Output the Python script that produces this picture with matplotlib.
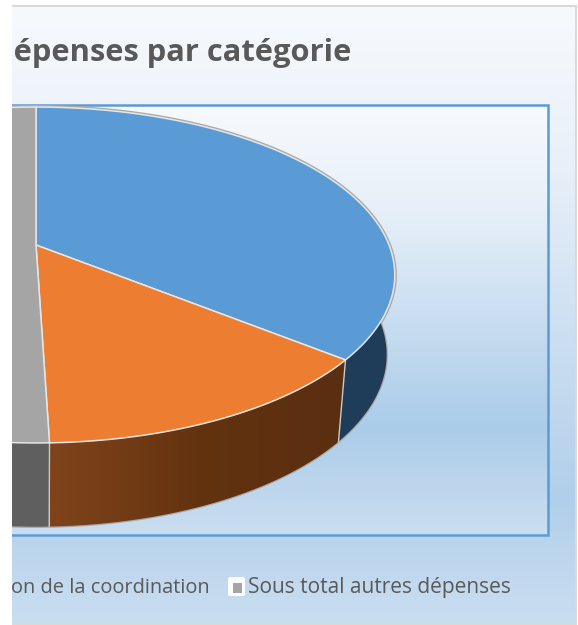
"""
Clipped 3D pie chart of expenses per category
"""

import numpy as np
import matplotlib
matplotlib.use('Agg')
import matplotlib.pyplot as plt
from matplotlib.colors import LinearSegmentedColormap
from matplotlib.patches import FancyBboxPatch, Polygon, Rectangle

# Chart values, clockwise from the top of the pie
categories = ['Blue part', 'Orange part', 'Sous total autres dépenses']
shares = [35.8, 13.7, 50.5]
top_colors = ['#5b9bd5', '#ed7d31', '#a5a5a5']
side_colors = ['#1f3d59', None, '#5f5f5f']

title_text = 'dépenses par catégorie'
legend_left = 'on de la coordination'
legend_right = 'Sous total autres dépenses'

W, H = 578, 625
TILT = 0.1786


def project(theta, cx, cy, a, b):
    """ Projects an angle on the pie circle to the picture, with perspective"""
    x = np.sin(theta)
    y = np.cos(theta)
    scale = 1 + TILT * y
    return cx + a * x / scale, cy - b * y / scale


def top_rim(theta):
    return project(theta, 36, 245, 353, 162.6)


def bottom_rim(theta):
    return project(theta, 36, 324, 345, 166.5)


def gradient(ax, box, stops, clip=None, horizontal=False, zorder=1):
    """ Draws a gradient in a box (left, right, bottom, top)"""
    cmap = LinearSegmentedColormap.from_list('g', stops)
    values = np.linspace(0, 1, 256)
    values = values.reshape(1, -1) if horizontal else values.reshape(-1, 1)
    im = ax.imshow(values, extent=box, cmap=cmap, aspect='auto',
                   origin='upper', zorder=zorder, vmin=0, vmax=1)
    if clip is not None:
        im.set_clip_path(clip)


fig = plt.figure(figsize=(W / 100, H / 100), dpi=100)
ax = fig.add_axes([0, 0, 1, 1])
ax.set_xlim(0, W)
ax.set_ylim(H, 0)
ax.axis('off')

# Chart background
back = [(0, '#f7fafd'), (0.25, '#e9f0f9'), (0.8, '#b1cfea'), (1, '#cadef1')]
gradient(ax, (5, 575, 624, 6), back)
ax.add_patch(Rectangle((5, 5.5), 570.5, 618, fill=False,
                       edgecolor='#d9d9d9', linewidth=1.5, zorder=2))

# Plot area
inner = [(0, '#f7fafd'), (0.25, '#e6eff8'), (0.75, '#abcce9'), (1, '#cbdef1')]
gradient(ax, (5, 548, 535, 105), inner, zorder=3)
ax.add_patch(Rectangle((5, 105), 543, 430, fill=False,
                       edgecolor='#5b9bd5', linewidth=1.8, zorder=4))

# Pie slices
edges = np.cumsum([0] + shares) / np.sum(shares) * 2 * np.pi

# The outline sits behind the slices and shows as a soft grey rim
all_angles = np.linspace(0, 2 * np.pi, 400)
ax.add_patch(Polygon(np.column_stack(top_rim(all_angles)), closed=True,
                     facecolor='none', edgecolor='#a9a9a9', linewidth=3.0,
                     zorder=5))
front_angles = np.linspace(np.radians(75), np.radians(285), 200)
bx, by = bottom_rim(front_angles)
ax.plot(bx, by, color='#a9a9a9', linewidth=1.8, zorder=5)

for i in range(len(shares)):
    # Side wall, the top face hides whatever is turned away from the viewer
    start = max(edges[i], np.radians(75))
    end = min(edges[i + 1], np.radians(285))
    if end > start:
        angles = np.linspace(start, end, 120)
        tx, ty = top_rim(angles)
        bx, by = bottom_rim(angles)
        outline = np.column_stack([np.r_[tx, bx[::-1]], np.r_[ty, by[::-1]]])
        if side_colors[i] is None:
            wall = Polygon(outline, closed=True, facecolor='none',
                           edgecolor='none', zorder=6)
            ax.add_patch(wall)
            gradient(ax, (50, 348, 530, 350), ['#80441b', '#63330f', '#5a2e11'],
                     clip=wall, horizontal=True, zorder=6)
        else:
            ax.add_patch(Polygon(outline, closed=True,
                                 facecolor=side_colors[i], edgecolor='none',
                                 zorder=6))
        # Vertical seam at the slice start
        ax.plot([tx[0], bx[0]], [ty[0], by[0]], color='#c9c9c9',
                linewidth=1.0, zorder=7)

    # Top face
    angles = np.linspace(edges[i], edges[i + 1], 200)
    tx, ty = top_rim(angles)
    face = np.column_stack([np.r_[36, tx], np.r_[245, ty]])
    ax.add_patch(Polygon(face, closed=True, facecolor=top_colors[i],
                         edgecolor='#e6e6e6', linewidth=1.1, zorder=8))

# Title and legend
ax.text(351, 53, title_text, ha='right', va='center', fontsize=22.2,
        fontweight='bold', family='Open Sans', color='#595959', zorder=9)
ax.text(210, 588, legend_left, ha='right', va='center', fontsize=14.4,
        family='Open Sans', color='#595959', zorder=9)
ax.add_patch(FancyBboxPatch((228, 577), 17, 19,
                            boxstyle='round,pad=0,rounding_size=2',
                            facecolor='white', edgecolor='none', zorder=9))
ax.add_patch(Rectangle((232.5, 583), 9, 9.5, facecolor=top_colors[2],
                       edgecolor='none', zorder=10))
ax.text(248, 588, legend_right, ha='left', va='center', fontsize=15,
        family='Open Sans', color='#595959', zorder=9)

# The picture is cut off on the left
ax.add_patch(Rectangle((0, 0), 12, H, facecolor='white', edgecolor='none',
                       zorder=20))

fig.savefig('out.png', dpi=100)
